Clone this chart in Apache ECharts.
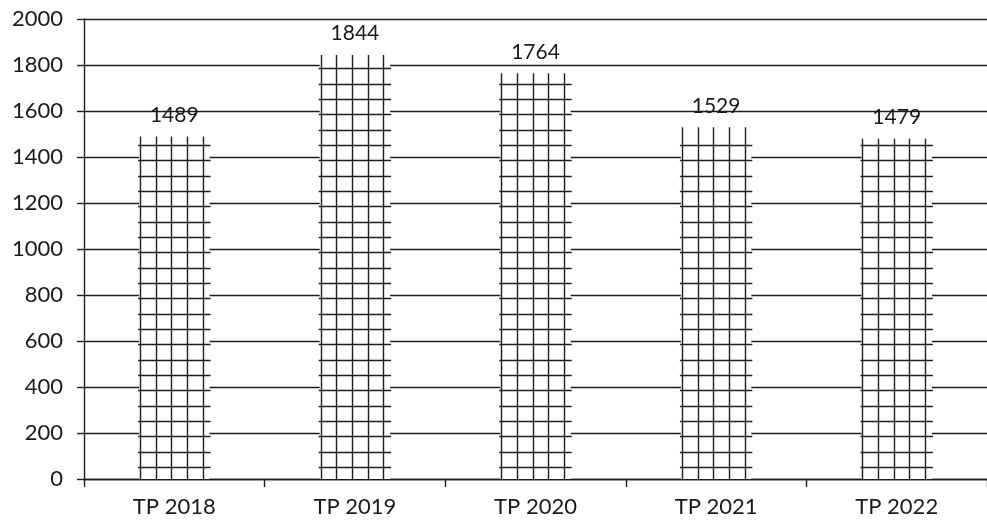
<!DOCTYPE html>
<html>
<head>
<meta charset="utf-8">
<script src="https://cdn.jsdelivr.net/npm/echarts@6/dist/echarts.min.js"></script>
<style>
html,body{margin:0;padding:0;background:#fff;}
#c{width:987px;height:527px;}
</style>
</head>
<body>
<div id="c"></div>
<script>
const categories = ['TP 2018', 'TP 2019', 'TP 2020', 'TP 2021', 'TP 2022'];
const values = [1489, 1844, 1764, 1529, 1479];
const yTicks = [0, 200, 400, 600, 800, 1000, 1200, 1400, 1600, 1800, 2000];

const BAR_FRAC = 0.39;
const LINE = '#1e1e1e';
const TEXT = '#1a1a1a';
const FONT = 'Lato, "Open Sans", sans-serif';

const chart = echarts.init(document.getElementById('c'));

function renderHatch(params, api) {
  const i = api.value(0), v = api.value(1);
  const top = api.coord([i, v]);
  const bot = api.coord([i, 0]);
  const band = api.size([1, 0])[0];
  const w = band * BAR_FRAC;
  const left = bot[0] - w / 2;
  const children = [];
  const style = { stroke: LINE, lineWidth: 1.4 };
  for (let k = 0; k < 5; k++) {
    const x = Math.round(left + 1 + k * w * 0.2225) + 0.5;
    children.push({ type: 'line', shape: { x1: x, y1: top[1], x2: x, y2: bot[1] }, style });
  }
  const pitch = 15.33;
  for (let y = bot[1] - 12; y > top[1] + 6; y -= pitch) {
    const yy = Math.round(y) + 0.5;
    children.push({ type: 'line', shape: { x1: left - 1, y1: yy, x2: left + w + 1, y2: yy }, style });
  }
  return { type: 'group', children };
}

chart.setOption({
  animation: false,
  backgroundColor: '#fff',
  grid: { left: 84, top: 19, width: 911, height: 460, containLabel: false },
  xAxis: {
    type: 'category',
    data: categories,
    axisLine: { show: true, lineStyle: { color: LINE, width: 1.4 } },
    axisTick: { show: true, length: 8, lineStyle: { color: LINE, width: 1.4 } },
    axisLabel: { color: TEXT, fontSize: 22, fontFamily: FONT, margin: 17 }
  },
  yAxis: {
    type: 'value',
    min: yTicks[0],
    max: yTicks[yTicks.length - 1],
    interval: 200,
    axisLine: { show: true, lineStyle: { color: LINE, width: 1.4 } },
    axisTick: { show: true, length: 7, lineStyle: { color: LINE, width: 1.4 } },
    axisLabel: { color: TEXT, fontSize: 22, fontFamily: FONT, margin: 21, formatter: v => String(v) },
    splitLine: { show: true, lineStyle: { color: LINE, width: 1.4 } }
  },
  series: [
    {
      type: 'bar',
      data: values,
      barWidth: (BAR_FRAC * 100) + '%',
      itemStyle: { color: '#fff' },
      label: { show: true, position: 'top', distance: 11, color: TEXT, fontSize: 21, fontFamily: FONT },
      z: 2
    },
    {
      type: 'custom',
      data: values.map((v, i) => [i, v]),
      encode: { x: 0, y: 1 },
      renderItem: renderHatch,
      z: 3
    }
  ]
});
</script>
</body>
</html>
